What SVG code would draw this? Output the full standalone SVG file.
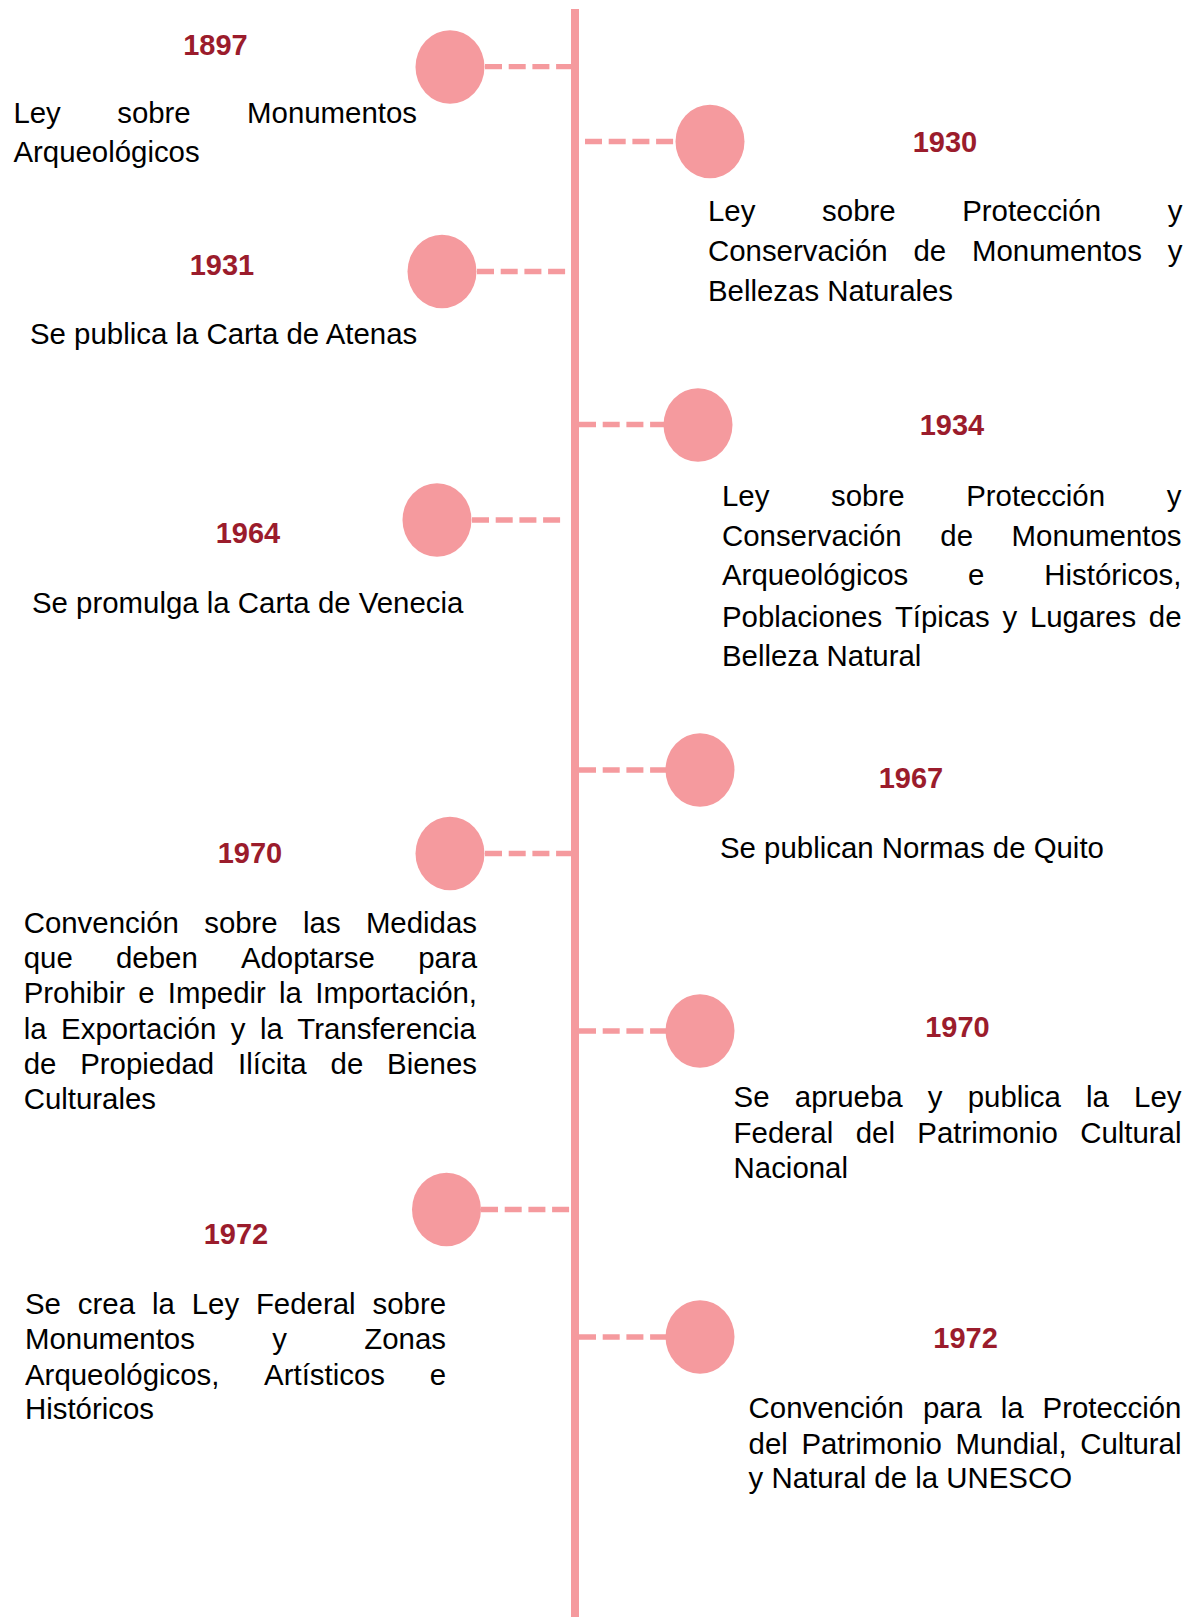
<svg xmlns="http://www.w3.org/2000/svg" width="1196" height="1617" viewBox="0 0 1196 1617">
<style>
.yr{font-family:"Liberation Sans",Arial,sans-serif;font-weight:bold;font-size:29px;fill:#9B1C2C;text-anchor:middle}
.tx{font-family:"Liberation Sans",Arial,sans-serif;font-size:29.4px;fill:#000}
.dot{fill:#F59A9E}
.conn{stroke:#F59A9E;stroke-width:5.3;stroke-dasharray:17 6.7;fill:none}
.axis{stroke:#F59A9E;stroke-width:8;fill:none}
</style>
<rect width="1196" height="1617" fill="#fff"/>
<g id="connectors">
<line class="axis" x1="575" y1="9" x2="575" y2="1617"/>
<line class="conn" x1="485" y1="66.7" x2="571" y2="66.7"/>
<line class="conn" x1="585" y1="141.5" x2="676" y2="141.5"/>
<line class="conn" x1="477" y1="271.5" x2="566" y2="271.5"/>
<line class="conn" x1="579" y1="424.5" x2="664" y2="424.5"/>
<line class="conn" x1="472" y1="520" x2="562" y2="520"/>
<line class="conn" x1="579" y1="770" x2="666" y2="770"/>
<line class="conn" x1="485" y1="853.5" x2="571" y2="853.5"/>
<line class="conn" x1="579" y1="1031" x2="666" y2="1031"/>
<line class="conn" x1="481" y1="1209.5" x2="571" y2="1209.5"/>
<line class="conn" x1="579" y1="1337" x2="666" y2="1337"/>
</g>
<g id="n1897">
<ellipse class="dot" cx="450" cy="67" rx="34.5" ry="36.7"/>
<text class="yr" x="215.5" y="55">1897</text>
<text class="tx"><tspan x="13.4" y="123.3">Ley</tspan><tspan x="117.2" y="123.3">sobre</tspan><tspan x="247.1" y="123.3">Monumentos</tspan><tspan x="13.4" y="162.3">Arqueológicos</tspan></text>
</g>
<g id="n1930">
<ellipse class="dot" cx="710" cy="141.5" rx="34.5" ry="36.7"/>
<text class="yr" x="945" y="151.7">1930</text>
<text class="tx"><tspan x="708" y="220.7">Ley</tspan><tspan x="822.1" y="220.7">sobre</tspan><tspan x="962.2" y="220.7">Protección</tspan><tspan x="1167.8" y="220.7">y</tspan><tspan x="708" y="260.7">Conservación</tspan><tspan x="913.5" y="260.7">de</tspan><tspan x="972" y="260.7">Monumentos</tspan><tspan x="1167.8" y="260.7">y</tspan><tspan x="708" y="300.7">Bellezas Naturales</tspan></text>
</g>
<g id="n1931">
<ellipse class="dot" cx="442" cy="271.5" rx="34.5" ry="36.7"/>
<text class="yr" x="222" y="275">1931</text>
<text class="tx" x="30" y="344">Se publica la Carta de Atenas</text>
</g>
<g id="n1934">
<ellipse class="dot" cx="698" cy="425" rx="34.5" ry="36.7"/>
<text class="yr" x="952" y="435">1934</text>
<text class="tx"><tspan x="722" y="506">Ley</tspan><tspan x="831" y="506">sobre</tspan><tspan x="966.2" y="506">Protección</tspan><tspan x="1166.8" y="506">y</tspan><tspan x="722" y="546">Conservación</tspan><tspan x="940.3" y="546">de</tspan><tspan x="1011.6" y="546">Monumentos</tspan><tspan x="722" y="585">Arqueológicos</tspan><tspan x="968.1" y="585">e</tspan><tspan x="1044.3" y="585">Históricos,</tspan><tspan x="722" y="626.7">Poblaciones</tspan><tspan x="894.9" y="626.7">Típicas</tspan><tspan x="1002.4" y="626.7">y</tspan><tspan x="1029.9" y="626.7">Lugares</tspan><tspan x="1148.8" y="626.7">de</tspan><tspan x="722" y="666">Belleza Natural</tspan></text>
</g>
<g id="n1964">
<ellipse class="dot" cx="437" cy="520" rx="34.5" ry="36.7"/>
<text class="yr" x="248" y="543.3">1964</text>
<text class="tx" x="32" y="613">Se promulga la Carta de Venecia</text>
</g>
<g id="n1967">
<ellipse class="dot" cx="700" cy="770" rx="34.5" ry="36.7"/>
<text class="yr" x="911" y="788.3">1967</text>
<text class="tx" x="720" y="858.3">Se publican Normas de Quito</text>
</g>
<g id="n1970a">
<ellipse class="dot" cx="450" cy="853.5" rx="34.5" ry="36.7"/>
<text class="yr" x="250" y="863.3">1970</text>
<text class="tx"><tspan x="23.7" y="933.3">Convención</tspan><tspan x="204.2" y="933.3">sobre</tspan><tspan x="303" y="933.3">las</tspan><tspan x="365.9" y="933.3">Medidas</tspan><tspan x="23.7" y="968.3">que</tspan><tspan x="116" y="968.3">deben</tspan><tspan x="240.9" y="968.3">Adoptarse</tspan><tspan x="418.2" y="968.3">para</tspan><tspan x="23.7" y="1003.3">Prohibir</tspan><tspan x="138.2" y="1003.3">e</tspan><tspan x="167.8" y="1003.3">Impedir</tspan><tspan x="279.1" y="1003.3">la</tspan><tspan x="315.3" y="1003.3">Importación,</tspan><tspan x="23.7" y="1039.3">la</tspan><tspan x="61.1" y="1039.3">Exportación</tspan><tspan x="230.8" y="1039.3">y</tspan><tspan x="259.9" y="1039.3">la</tspan><tspan x="297.3" y="1039.3">Transferencia</tspan><tspan x="23.7" y="1074">de</tspan><tspan x="80.2" y="1074">Propiedad</tspan><tspan x="238.1" y="1074">Ilícita</tspan><tspan x="330.6" y="1074">de</tspan><tspan x="387.1" y="1074">Bienes</tspan><tspan x="23.7" y="1109.3">Culturales</tspan></text>
</g>
<g id="n1970b">
<ellipse class="dot" cx="700" cy="1031" rx="34.5" ry="36.7"/>
<text class="yr" x="957.5" y="1037.3">1970</text>
<text class="tx"><tspan x="733.6" y="1106.7">Se</tspan><tspan x="794.8" y="1106.7">aprueba</tspan><tspan x="927.8" y="1106.7">y</tspan><tspan x="967.7" y="1106.7">publica</tspan><tspan x="1086" y="1106.7">la</tspan><tspan x="1134.1" y="1106.7">Ley</tspan><tspan x="733.6" y="1142.7">Federal</tspan><tspan x="855.7" y="1142.7">del</tspan><tspan x="917.3" y="1142.7">Patrimonio</tspan><tspan x="1080.2" y="1142.7">Cultural</tspan><tspan x="733.6" y="1177.7">Nacional</tspan></text>
</g>
<g id="n1972a">
<ellipse class="dot" cx="446.5" cy="1209.5" rx="34.5" ry="36.7"/>
<text class="yr" x="236" y="1244">1972</text>
<text class="tx"><tspan x="25" y="1314.3">Se</tspan><tspan x="77.8" y="1314.3">crea</tspan><tspan x="151.9" y="1314.3">la</tspan><tspan x="191.7" y="1314.3">Ley</tspan><tspan x="255.9" y="1314.3">Federal</tspan><tspan x="372.5" y="1314.3">sobre</tspan><tspan x="25" y="1349.3">Monumentos</tspan><tspan x="272.3" y="1349.3">y</tspan><tspan x="364.3" y="1349.3">Zonas</tspan><tspan x="25" y="1385">Arqueológicos,</tspan><tspan x="264.1" y="1385">Artísticos</tspan><tspan x="429.7" y="1385">e</tspan><tspan x="25" y="1419.3">Históricos</tspan></text>
</g>
<g id="n1972b">
<ellipse class="dot" cx="700" cy="1337" rx="34.5" ry="36.7"/>
<text class="yr" x="965.6" y="1347.7">1972</text>
<text class="tx"><tspan x="748.6" y="1418.3">Convención</tspan><tspan x="922.9" y="1418.3">para</tspan><tspan x="1000.7" y="1418.3">la</tspan><tspan x="1042.6" y="1418.3">Protección</tspan><tspan x="748.6" y="1454">del</tspan><tspan x="801.4" y="1454">Patrimonio</tspan><tspan x="955.5" y="1454">Mundial,</tspan><tspan x="1080.2" y="1454">Cultural</tspan><tspan x="748.6" y="1488.3">y Natural de la UNESCO</tspan></text>
</g>
</svg>
